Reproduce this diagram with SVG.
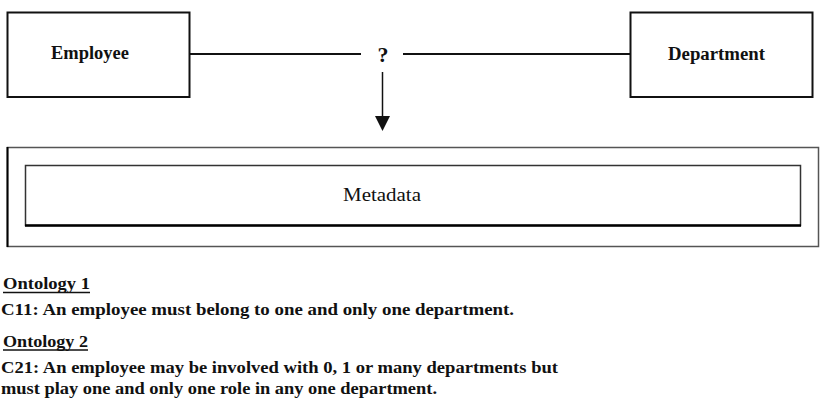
<svg xmlns="http://www.w3.org/2000/svg" width="822" height="412" viewBox="0 0 822 412">
<style>
.box{fill:#fff;stroke:#111;stroke-width:2}
.frame{fill:none;stroke:#555;stroke-width:1.5}
.conn{stroke:#111;stroke-width:2;fill:none}
.lbl{font-family:"Liberation Serif","DejaVu Serif",serif;font-weight:bold;font-size:18px;fill:#111}
.q{font-family:"Liberation Serif","DejaVu Serif",serif;font-weight:bold;font-size:22px;fill:#111}
.meta{font-family:"Liberation Serif","DejaVu Serif",serif;font-size:19px;fill:#111}
.body{font-family:"Liberation Serif","DejaVu Serif",serif;font-weight:bold;font-size:17px;fill:#111}
</style>
<rect width="822" height="412" fill="#fff"/>
<g id="connectors">
<line class="conn" x1="189" y1="54" x2="361" y2="54"/>
<line class="conn" x1="403" y1="54" x2="630" y2="54"/>
<line x1="382.5" y1="72" x2="382.5" y2="118" stroke="#111" stroke-width="1.5"/>
<polygon points="375,116 390,116 382.5,131" fill="#111"/>
</g>
<g id="question">
<text class="q" x="383" y="62" text-anchor="middle">?</text>
</g>
<g id="employee">
<rect class="box" x="7.5" y="12.5" width="182" height="84.5"/>
<text class="lbl" x="51" y="58.5" textLength="78" lengthAdjust="spacingAndGlyphs">Employee</text>
</g>
<g id="department">
<rect class="box" x="630.5" y="12.5" width="182" height="84.5"/>
<text class="lbl" x="668" y="59.5" textLength="97" lengthAdjust="spacingAndGlyphs">Department</text>
</g>
<g id="metadata-frame">
<rect class="frame" x="7.5" y="147.5" width="811" height="99"/>
<line x1="7.5" y1="147" x2="7.5" y2="247" stroke="#000" stroke-width="2"/>
</g>
<g id="metadata">
<rect x="25.5" y="165.5" width="775" height="60" fill="#fff" stroke="#333" stroke-width="1.5"/>
<line x1="25" y1="225.5" x2="801" y2="225.5" stroke="#000" stroke-width="2.5"/>
<text class="meta" x="343" y="200.5" textLength="78" lengthAdjust="spacingAndGlyphs">Metadata</text>
</g>
<g id="ontologies">
<text class="body" x="3" y="289" textLength="87" lengthAdjust="spacingAndGlyphs">Ontology 1</text>
<line x1="3" y1="292.5" x2="90" y2="292.5" stroke="#111" stroke-width="1.5"/>
<text class="body" x="1" y="314.5" textLength="513" lengthAdjust="spacingAndGlyphs">C11: An employee must belong to one and only one department.</text>
<text class="body" x="3" y="346.5" textLength="85" lengthAdjust="spacingAndGlyphs">Ontology 2</text>
<line x1="3" y1="350" x2="88" y2="350" stroke="#111" stroke-width="1.5"/>
<text class="body" x="1" y="372.5" textLength="557" lengthAdjust="spacingAndGlyphs">C21: An employee may be involved with 0, 1 or many departments but</text>
<text class="body" x="1" y="394" textLength="436" lengthAdjust="spacingAndGlyphs">must play one and only one role in any one department.</text>
</g>
</svg>
